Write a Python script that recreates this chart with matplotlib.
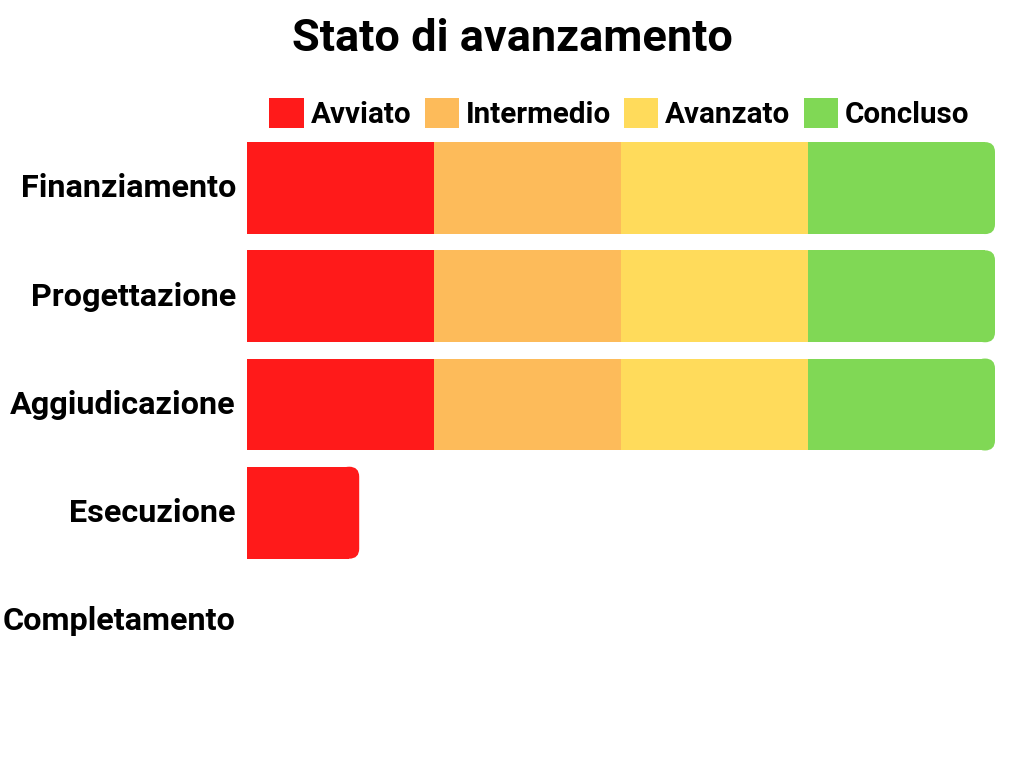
import matplotlib
matplotlib.use("Agg")
import matplotlib.pyplot as plt
from matplotlib.patches import FancyBboxPatch, Patch

plt.rcParams['font.family'] = ['Roboto', 'DejaVu Sans']
plt.rcParams['font.weight'] = 'bold'

phases = ["Finanziamento", "Progettazione", "Aggiudicazione", "Esecuzione", "Completamento"]
levels = ["Avviato", "Intermedio", "Avanzato", "Concluso"]
avviato = [25, 25, 25, 15, 0]
intermedio = [25, 25, 25, 0, 0]
avanzato = [25, 25, 25, 0, 0]
concluso = [25, 25, 25, 0, 0]
colors = ["#FF1A1A", "#FDBB5A", "#FFDB5B", "#80D855"]

series = [avviato, intermedio, avanzato, concluso]

fig = plt.figure(figsize=(10.24, 7.68), dpi=100)
ax = fig.add_axes([247 / 1024, 1 - 675 / 768, 748 / 1024, 541 / 768])
ax.set_xlim(0, 100)
ax.set_ylim(4.5, -0.5)

bar_h = 0.85
# rounding radius ~10px, expressed in data units
rx = 10 / 7.48
ry = 10 / 108.2

for i, name in enumerate(phases):
    left = 0
    last = max([k for k in range(len(series)) if series[k][i] > 0], default=-1)
    for k, s in enumerate(series):
        w = s[i]
        if w <= 0:
            continue
        if k == last:
            ax.barh(i, w - rx, left=left, height=bar_h, color=colors[k], linewidth=0)
            box = FancyBboxPatch((left + w - 2 * rx, i - bar_h / 2), 2 * rx, bar_h,
                                 boxstyle="round,pad=0,rounding_size=%f" % rx,
                                 mutation_aspect=ry / rx, facecolor=colors[k],
                                 linewidth=0)
            ax.add_patch(box)
        else:
            ax.barh(i, w, left=left, height=bar_h, color=colors[k], linewidth=0)
        left += w

ax.set_yticks([y - 0.025 for y in range(len(phases))])
ax.set_yticklabels(phases, fontsize=23.3, fontweight='bold')
ax.tick_params(axis='y', length=0, pad=8)
ax.set_xticks([])
for sp in ax.spines.values():
    sp.set_visible(False)

handles = [Patch(facecolor=c, edgecolor='none', label=l) for c, l in zip(colors, levels)]
fig.legend(handles=handles, loc='center', bbox_to_anchor=(0.605, 0.852), ncol=4,
           frameon=False, handlelength=1.15, handleheight=1.15,
           handletextpad=0.24, columnspacing=0.45, prop={'weight': 'bold', 'size': 21.3})

fig.text(0.5, 0.949, "Stato di avanzamento", ha='center', va='center',
         fontsize=32.5, fontweight='bold')

fig.savefig("out.png", dpi=100)
